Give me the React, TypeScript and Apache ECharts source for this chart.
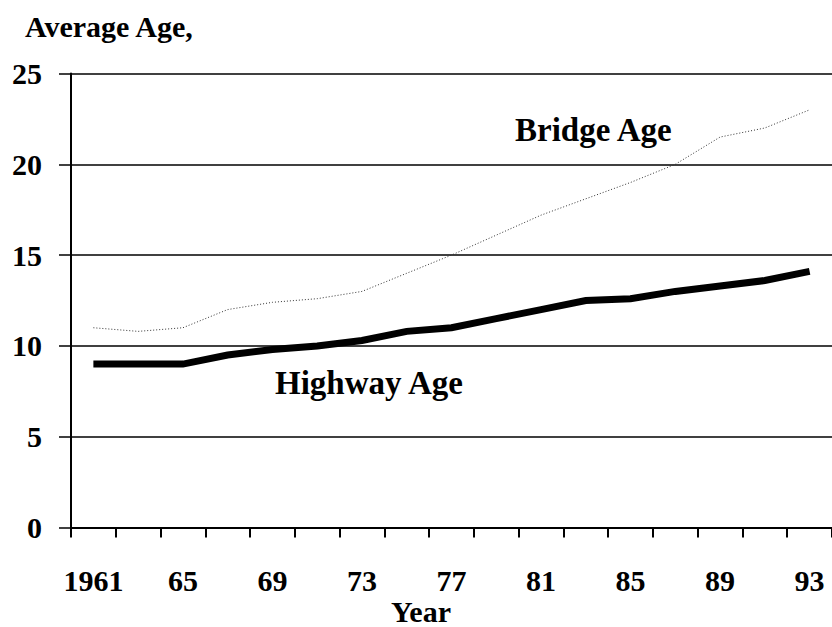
import React, { useEffect, useRef } from "react";
import * as echarts from "echarts";

const years = ["1961", "63", "65", "67", "69", "71", "73", "75", "77", "79", "81", "83", "85", "87", "89", "91", "93"];
const highwayAge = [9, 9, 9, 9.5, 9.8, 10, 10.3, 10.8, 11, 11.5, 12, 12.5, 12.6, 13, 13.3, 13.6, 14.1];
const bridgeAge = [11, 10.8, 11, 12, 12.4, 12.6, 13, 14, 15, 16.1, 17.2, 18.1, 19, 20, 21.5, 22, 23];
const yTicks = { min: 0, max: 25, interval: 5 };

const FONT = "'Liberation Serif', 'Times New Roman', serif";

export default function App() {
  const ref = useRef<HTMLDivElement>(null);
  useEffect(() => {
    document.body.style.margin = "0";
    document.body.style.overflow = "hidden";
    const chart = echarts.init(ref.current!, null, { renderer: "svg" });
    chart.setOption({
      animation: false,
      backgroundColor: "#ffffff",
      title: {
        text: "Average Age,",
        left: 20,
        top: 6,
        textStyle: { fontFamily: FONT, fontSize: 30, fontWeight: "bold", color: "#000" },
      },
      grid: { left: 71, right: -4, top: 73.5, bottom: 627 - 527.5 },
      xAxis: {
        type: "category",
        data: years,
        boundaryGap: true,
        axisLine: { show: true, lineStyle: { color: "#000", width: 2 } },
        axisTick: { show: true, interval: 0, length: 10, lineStyle: { color: "#000", width: 2 } },
        axisLabel: {
          interval: 1,
          margin: 38,
          fontFamily: FONT,
          fontSize: 30,
          fontWeight: "bold",
          color: "#000",
        },
        splitLine: { show: false },
      },
      yAxis: {
        type: "value",
        min: yTicks.min,
        max: yTicks.max,
        interval: yTicks.interval,
        axisLine: { show: true, lineStyle: { color: "#000", width: 2 } },
        axisTick: { show: true, inside: false, length: 12, lineStyle: { color: "#000", width: 1.5 } },
        axisLabel: {
          margin: 29,
          fontFamily: FONT,
          fontSize: 30,
          fontWeight: "bold",
          color: "#000",
        },
        splitLine: { show: true, lineStyle: { color: "#000", width: 1.5 } },
      },
      series: [
        {
          name: "Highway Age",
          type: "line",
          data: highwayAge,
          symbol: "none",
          lineStyle: { color: "#000", width: 7, join: "miter" },
          z: 3,
        },
        {
          name: "Bridge Age",
          type: "line",
          data: bridgeAge,
          symbol: "none",
          lineStyle: { color: "#333", width: 1, type: [1, 2] },
          z: 2,
        },
      ],
      graphic: [
        {
          type: "text",
          left: 515,
          top: 113,
          style: { text: "Bridge Age", fontFamily: FONT, fontSize: 33, fontWeight: "bold", fill: "#000" },
        },
        {
          type: "text",
          left: 275,
          top: 366,
          style: { text: "Highway Age", fontFamily: FONT, fontSize: 33, fontWeight: "bold", fill: "#000" },
        },
        {
          type: "text",
          left: 391,
          top: 596,
          style: { text: "Year", fontFamily: FONT, fontSize: 30, lineHeight: 28, fontWeight: "bold", fill: "#000" },
        },
      ],
    });
    return () => chart.dispose();
  }, []);
  return <div ref={ref} style={{ width: 832, height: 627, position: "fixed", left: 0, top: 0 }} />;
}
